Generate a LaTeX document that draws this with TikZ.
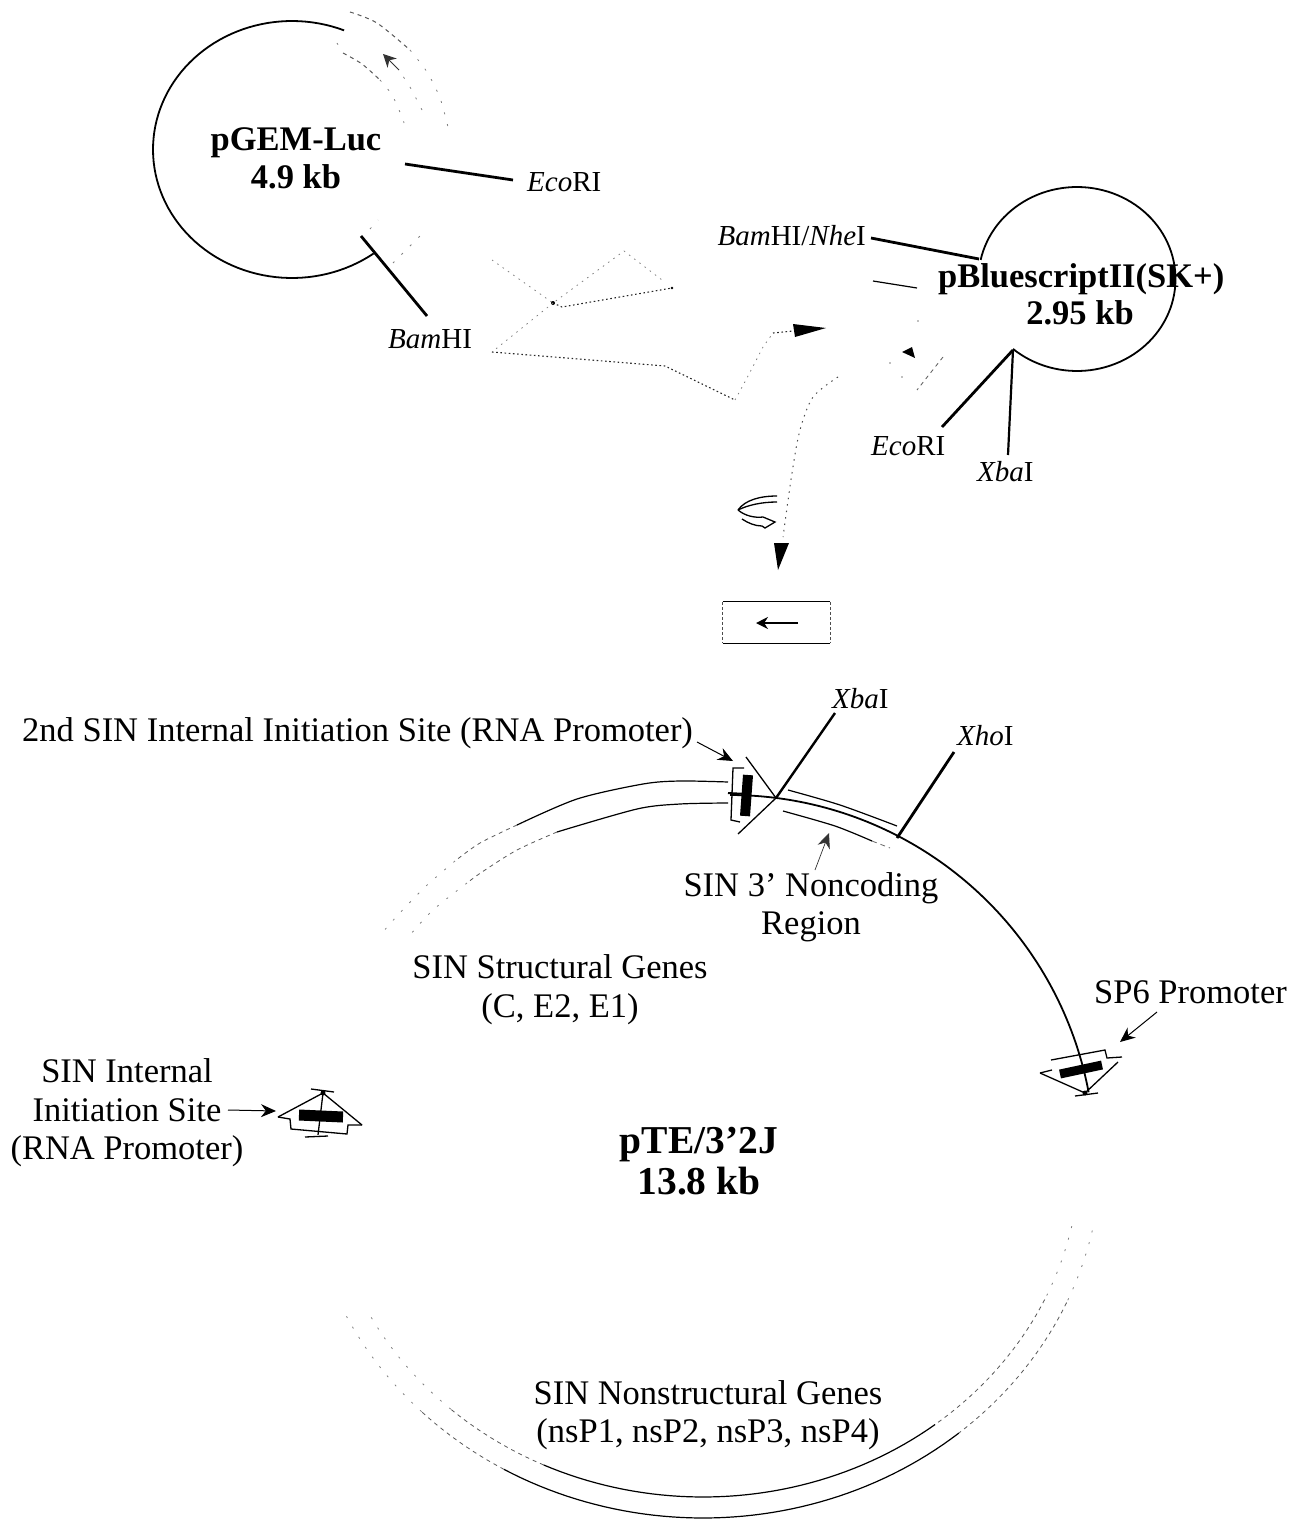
\documentclass[tikz,border=0pt]{standalone}
\usepackage{fontspec}
\setmainfont{Liberation Serif}
\usetikzlibrary{arrows.meta}
\tikzset{
  lab/.style={inner sep=0pt,font=\fontsize{34.5}{38.5}\selectfont,align=center},
  labsm/.style={inner sep=0pt,font=\fontsize{29}{33}\selectfont,align=center},
  bold/.style={inner sep=0pt,font=\fontsize{34.5}{38}\selectfont\bfseries,align=center},
  boldbig/.style={inner sep=0pt,font=\fontsize{39.5}{41}\selectfont\bfseries,align=center},
  ring/.style={line width=1.8pt,black},
  ringthin/.style={line width=1.2pt,black},
  faint/.style={line width=0.8pt,black!65,dash pattern=on 4pt off 4pt},
  fainter/.style={line width=0.8pt,black!50,dash pattern=on 2pt off 10pt},
  dot/.style={line width=1.1pt,black!85,dash pattern=on 1.6pt off 2.6pt},
  dotf/.style={line width=0.8pt,black!50,dash pattern=on 1.5pt off 5pt},
  site/.style={line width=2.8pt,black},
  callout/.style={line width=1pt,-{Stealth[length=15pt,width=13pt]}},
  glyph/.style={line width=1.3pt,black},
  bar/.style={line width=10pt,black},
}
\begin{document}
\begin{tikzpicture}[x=1pt,y=-1pt]
\useasboundingbox (0,0) rectangle (1294,1520);

%----- pGEM-Luc
\node[bold] (pgem) at (296,158) {pGEM-Luc\\4.9 kb};
\draw[ring] plot[domain=68:306,samples=90,variable=\t] ({292+139*cos(\t)},{149.5-128.5*sin(\t)});
\draw[faint,line width=1pt] plot[smooth] coordinates {(350,12)(377,23)(410,50)};
\draw[fainter] plot[smooth] coordinates {(410,50)(427,72)(440,98)(448,127)};
\draw[faint,line width=1pt] plot[smooth] coordinates {(343,53)(362,64)(380,80)};
\draw[fainter] plot[smooth] coordinates {(337,43)(343,53)};
\draw[fainter] plot[smooth] coordinates {(380,80)(392,95)(402,117)(404,123)};
\draw[fainter] plot[smooth] coordinates {(422,110)(410,87)(400,72)};
\coordinate (gemtail) at (399,70);
\coordinate (gemtip) at (383,54);
\draw[line width=0.9pt,black!80,-{Stealth[length=13pt,width=13pt]}] (gemtail) -- (gemtip);
\draw[fainter] (370,229) -- (378,220);
\draw[fainter] (393,263) -- (422,234);

\node[labsm,anchor=west] (eco1) at (527,182) {\textit{Eco}RI};
\node[labsm,anchor=west] (bam1) at (388,339) {\textit{Bam}HI};
\coordinate (eco1a) at (405,164);
\coordinate (eco1b) at (513,180);
\coordinate (bam1a) at (361,236);
\coordinate (bam1b) at (427,316);
\draw[site] (eco1a) -- (eco1b);
\draw[site] (bam1a) -- (bam1b);

%----- dotted fragments
\coordinate (d1) at (492,260);
\coordinate (d2) at (553,303);
\coordinate (d3) at (624,251);
\coordinate (d4) at (662,280);
\coordinate (d5) at (672,288);
\coordinate (d6) at (492,352);
\coordinate (d7) at (665,366);
\coordinate (d8) at (735,400);
\coordinate (d9) at (773,333);
\coordinate (d10) at (793,331);
\draw[dotf] (d1) -- (d2) -- (d3) -- (d4);
\draw[dot] (d2) -- (562,307) -- (d5);
\fill (d2) circle (2pt);
\fill (d5) circle (1.4pt);
\draw[dotf] (d2) -- (d6);
\draw[dot] (d6) -- (d7) -- (d8);
\draw[dotf] (d8) -- (747,378) -- (763,347) -- (d9);
\draw[dot] (d9) -- (d10);
\fill (793,324) -- (826,328) -- (795,337) -- cycle;

%----- pBluescript
\draw[ring] plot[domain=168:-130.5,samples=100,variable=\t] ({1077+98.5*cos(\t)},{279-92*sin(\t)});
\node[bold,anchor=west] (pblue) at (938,279) {pBluescriptII(SK+)};
\node[bold] (pbluesz) at (1080,313) {2.95 kb};
\node[labsm,anchor=east] (bamnhe) at (866,236) {\textit{Bam}HI/\textit{Nhe}I};
\node[labsm,anchor=west] (eco2) at (871,446) {\textit{Eco}RI};
\node[labsm,anchor=west] (xba1) at (977,472) {\textit{Xba}I};
\coordinate (bnb) at (871,238);
\coordinate (bne) at (979,259);
\coordinate (jct) at (1013,350);
\coordinate (ecoe) at (942,427);
\coordinate (xbe) at (1008,455);
\draw[site] (bnb) -- (bne);
\draw[site] (jct) -- (ecoe);
\draw[line width=2.2pt] (jct) -- (xbe);
\draw[line width=1.2pt] (873,281) -- (917,288);
\fill (902,352) -- (912,347) -- (915,358) -- cycle;
\draw[faint] (943,357) -- (917,390);
\fill[black!50] (918,321) circle (0.8pt) (890,363) circle (0.8pt) (902,377) circle (0.8pt);

%----- dotted curve to box
\coordinate (c1) at (838,377);
\coordinate (c2) at (783,537);
\draw[dotf,line width=1pt,black!70] plot[smooth] coordinates {(c1)(813,397)(800,430)(792,473)(c2)};
\fill (774,543) -- (789,543) -- (778,570) -- cycle;

%----- small curled mark
\draw[glyph] (738,510) .. controls (745,500) and (760,496) .. (777,496);
\draw[glyph] (738,510) .. controls (748,505) and (762,502) .. (777,502);
\draw[glyph] (738,510) .. controls (745,516) and (755,518) .. (763,517) -- (775,522) -- (765,528) -- (762,526) .. controls (755,526) and (748,523) .. (742,519);

%----- box with arrow
\node[draw=none,minimum width=107pt,minimum height=41pt,inner sep=0pt] (boxn) at (776.5,622.5) {};
\draw[line width=1.3pt] (boxn.north west) -- (boxn.north east);
\draw[line width=1.3pt] (boxn.south west) -- (boxn.south east);
\draw[line width=0.9pt,black!70,dash pattern=on 3pt off 2pt] (boxn.north west) -- (boxn.south west);
\draw[line width=0.9pt,black!70,dash pattern=on 3pt off 2pt] (boxn.north east) -- (boxn.south east);
\coordinate (ba) at (798,623);
\coordinate (bb) at (756,623);
\draw[line width=1.6pt,-{Stealth[length=12pt,width=12pt]}] (ba) -- (bb);

%----- large plasmid: labels
\node[lab,anchor=west] (second) at (22,733) {2nd SIN Internal Initiation Site (RNA Promoter)};
\node[labsm,anchor=west] (xba2) at (832,699) {\textit{Xba}I};
\node[labsm,anchor=west] (xho) at (957,736) {\textit{Xho}I};
\node[lab] (noncod) at (811,907) {SIN 3’ Noncoding\\Region};
\node[lab] (struct) at (560,989.5) {SIN Structural Genes\\(C, E2, E1)};
\node[lab,anchor=west] (sp6) at (1094,992) {SP6 Promoter};
\node[lab] (int) at (127,1113) {SIN Internal\\Initiation Site\\(RNA Promoter)};
\node[boldbig] (pte) at (699,1161) {pTE/3’2J\\13.8 kb};
\node[lab] (nonstr) at (708,1415) {SIN Nonstructural Genes\\(nsP1, nsP2, nsP3, nsP4)};

%----- large plasmid: right solid arc
\coordinate (tp) at (776,798);
\coordinate (xs) at (897,838);
\coordinate (sp) at (1085,1093);
\draw[ring] plot[domain=90:10.7,samples=80,variable=\t] ({730+365*cos(\t)},{1160-365*sin(\t)});
\coordinate (xb2a) at (835,713);
\coordinate (xh2a) at (954,752);
\draw[line width=2.4pt] (xb2a) -- (tp);
\draw[site] (xh2a) -- (xs);
\draw[ringthin] plot[smooth] coordinates {(788,790)(840,805)(897,826)};
\draw[ringthin] plot[smooth] coordinates {(783,811)(835,826)(872,841)};
\draw[line width=0.8pt,black!60,dash pattern=on 5pt off 4pt] (872,841) -- (890,848);

%----- upper-left double arc
\draw[ringthin] plot[smooth] coordinates {(728,782)(680,781)(643,784)(577,799)(517,825)};
\draw[faint] plot[smooth] coordinates {(517,825)(480,843)(455,861)};
\draw[fainter] plot[smooth] coordinates {(455,861)(425,887)(397,916)(382,933)};
\draw[ringthin] plot[smooth] coordinates {(728,803)(680,804)(637,809)(557,832)};
\draw[faint] plot[smooth] coordinates {(557,832)(517,850)(482,872)(467,883)};
\draw[fainter] plot[smooth] coordinates {(467,883)(433,910)(410,935)};

%----- large plasmid: lower double arc
\draw[fainter] plot[domain=-12:-24,samples=12,variable=\t] ({703+398*cos(\t)},{1155-363*sin(\t)});
\draw[faint] plot[domain=-24:-50,samples=20,variable=\t] ({703+398*cos(\t)},{1155-363*sin(\t)});
\draw[ringthin] plot[domain=-50:-120,samples=50,variable=\t] ({703+398*cos(\t)},{1155-363*sin(\t)});
\draw[faint] plot[domain=-120:-135,samples=12,variable=\t] ({703+398*cos(\t)},{1155-363*sin(\t)});
\draw[fainter] plot[domain=-135:-155,samples=15,variable=\t] ({703+398*cos(\t)},{1155-363*sin(\t)});
\draw[fainter] plot[domain=-12:-25,samples=12,variable=\t] ({703+377*cos(\t)},{1155-342*sin(\t)});
\draw[faint] plot[domain=-25:-52,samples=20,variable=\t] ({703+377*cos(\t)},{1155-342*sin(\t)});
\draw[ringthin] plot[domain=-52:-115,samples=45,variable=\t] ({703+377*cos(\t)},{1155-342*sin(\t)});
\draw[faint] plot[domain=-115:-132,samples=12,variable=\t] ({703+377*cos(\t)},{1155-342*sin(\t)});
\draw[fainter] plot[domain=-132:-152,samples=15,variable=\t] ({703+377*cos(\t)},{1155-342*sin(\t)});

%----- promoter glyph, top
\draw[bar] (748,775) -- (745,816);
\draw[glyph] (746,757) -- (tp) -- (738,834);
\draw[glyph] (744,768) -- (733,768) -- (731,820) -- (740,822);
\draw[line width=2pt] (728,793) -- (746,794);

%----- promoter glyph, SP6
\draw[bar,line width=9pt] (1060,1074) -- (1102,1065);
\coordinate (spl) at (1040,1073);
\coordinate (spr) at (1118,1062);
\draw[glyph] (spl) -- (sp) -- (spr);
\draw[glyph] (spl) -- (1052,1070);
\draw[glyph] (1051,1060) -- (1105,1050) -- (1107,1058) -- (1122,1057);
\draw[glyph] (1075,1096) -- (1098,1093);
\fill (sp) circle (2.5pt);

%----- promoter glyph, internal
\draw[bar,line width=11pt] (299,1115) -- (343,1117);
\coordinate (ia) at (323,1093);
\coordinate (il) at (278,1117);
\coordinate (ir) at (362,1125);
\draw[glyph] (il) -- (ia) -- (ir);
\draw[glyph] (il) -- (290,1119) -- (291,1129) -- (347,1134) -- (348,1125) -- (ir);
\draw[glyph] (ia) -- (318,1135);
\draw[glyph] (305,1137) -- (328,1136);
\draw[glyph] (311,1089) -- (334,1092);
\fill (ia) circle (2.5pt);

%----- callout arrows
\coordinate (a1a) at (697,742);
\coordinate (a1b) at (733,761);
\draw[callout] (a1a) -- (a1b);
\coordinate (a2a) at (1157,1012);
\coordinate (a2b) at (1120,1042);
\draw[callout] (a2a) -- (a2b);
\coordinate (a3a) at (228,1110);
\coordinate (a3b) at (276,1111);
\draw[callout] (a3a) -- (a3b);
\coordinate (a4a) at (815,870);
\coordinate (a4b) at (829,833);
\draw[callout,line width=0.7pt,black!80] (a4a) -- (a4b);
\end{tikzpicture}
\end{document}
